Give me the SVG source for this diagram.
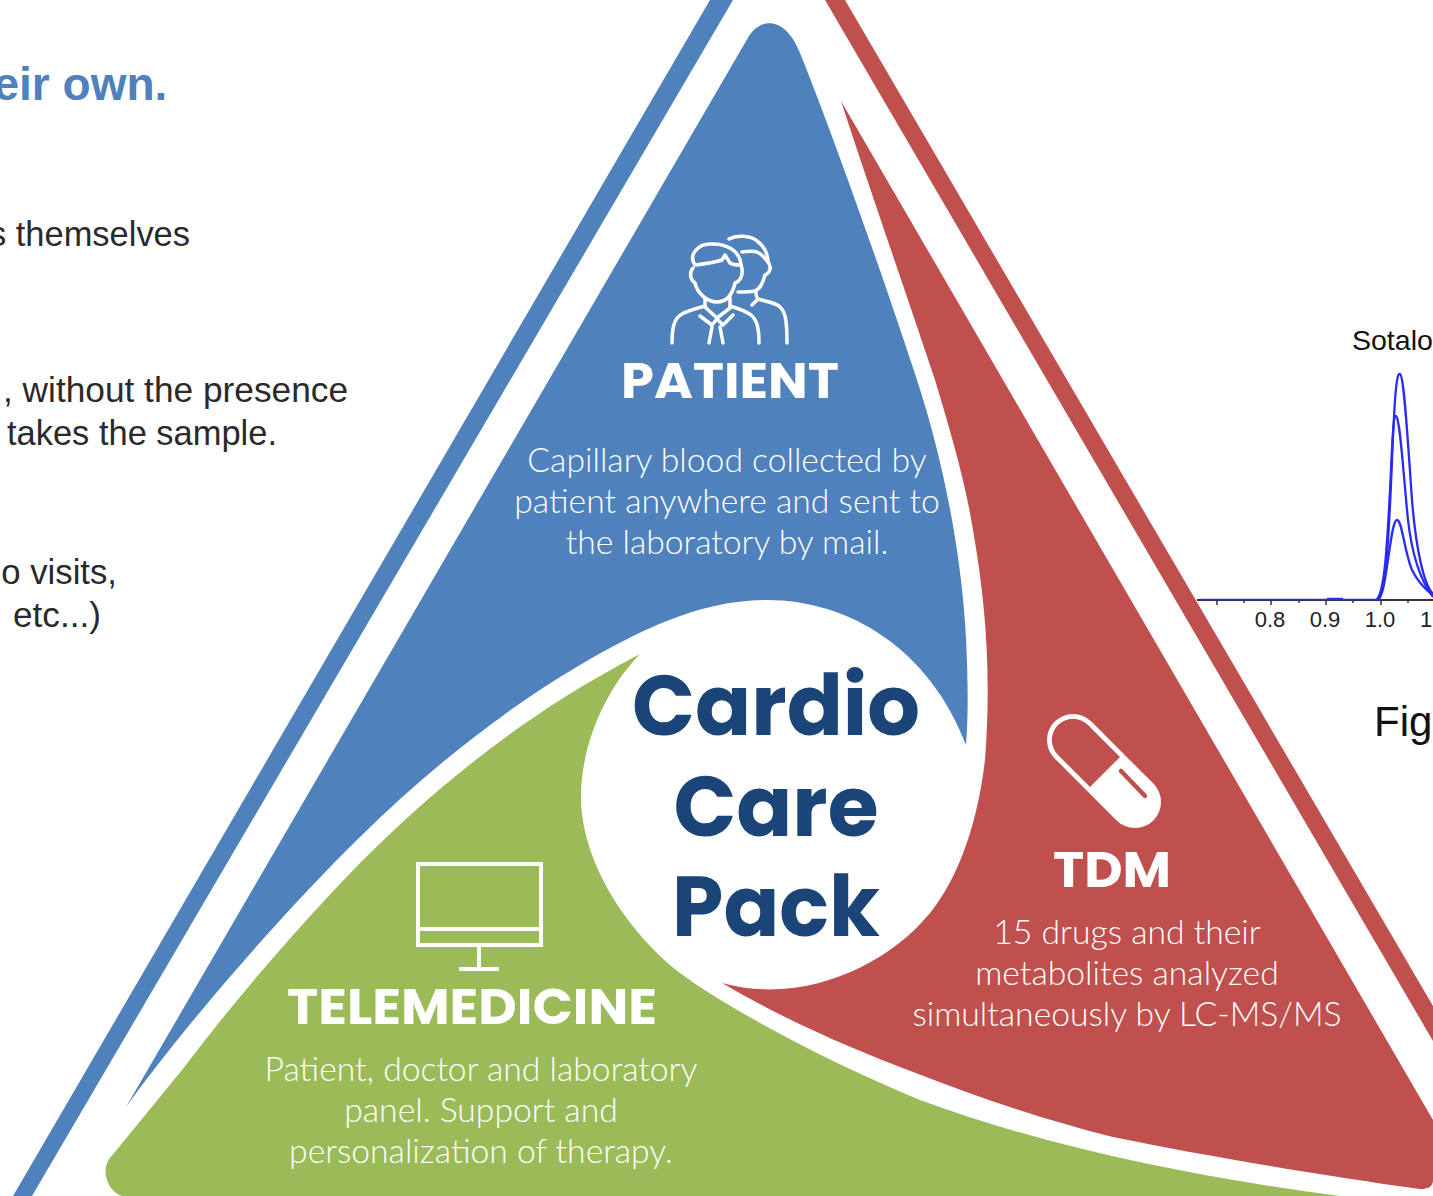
<svg xmlns="http://www.w3.org/2000/svg" width="1433" height="1196" viewBox="0 0 1433 1196">
<style>
.l{font-family:"Liberation Sans",Arial,sans-serif;font-size:35px;fill:#2a2a2a}
.b{font-family:Lato,"Open Sans",sans-serif;font-weight:300;font-size:33.700px;fill:#fff;text-anchor:middle}
.h{font-family:Poppins,Inter,sans-serif;font-weight:700;fill:#fff;text-anchor:middle;font-size:50px}
.c{font-family:Poppins,Inter,sans-serif;font-weight:700;fill:#1b4478;text-anchor:middle;font-size:84px}
.t{font-family:"Liberation Sans",Arial,sans-serif;font-size:22px;fill:#222;text-anchor:middle}
.w{fill:none;stroke:#fff;stroke-width:3.500;stroke-linecap:round;stroke-linejoin:round}
.tr{fill:none;stroke:#2a2af0;stroke-width:2.300}
</style>
<rect width="1433" height="1196" fill="#fff"/>
<g id="background-text">
<text x="-6.500" y="100" font-family="Liberation Sans,Arial,sans-serif" font-weight="700" font-size="46" fill="#4f81bd">eir own.</text>
<text class="l" x="-11" y="246" textLength="201" lengthAdjust="spacingAndGlyphs">s themselves</text>
<text class="l" x="3" y="402" textLength="345" lengthAdjust="spacingAndGlyphs">, without the presence</text>
<text class="l" x="7" y="445" textLength="270" lengthAdjust="spacingAndGlyphs">takes the sample.</text>
<text class="l" x="-18" y="584" textLength="135" lengthAdjust="spacingAndGlyphs">no visits,</text>
<text class="l" x="13" y="627" textLength="88" lengthAdjust="spacingAndGlyphs">etc...)</text>
<text x="1352" y="350" font-family="Liberation Sans,Arial,sans-serif" font-size="28.500" fill="#111">Sotalo</text>
<text x="1374" y="736" font-family="Liberation Sans,Arial,sans-serif" font-size="42" fill="#111">Fig</text>
</g>
<g id="chart">
<path d="M1197 600H1433" fill="none" stroke="#333" stroke-width="2"/>
<path d="M1217 600v5M1271 600v5M1326 600v5M1381 600v5M1244 600v3M1299 600v3M1353 600v3M1408 600v3" stroke="#333" stroke-width="1.500"/>
<path d="M1200 599.500H1378" fill="none" stroke="#2a2af0" stroke-width="1.500"/>
<path d="M1327 598.500H1343" fill="none" stroke="#2a2af0" stroke-width="1.500"/>
<path class="tr" d="M1376 600C1385 595 1388 560 1392 460C1395 385 1397 373 1400 374C1404 376 1407 430 1412 500C1416 550 1424 585 1433 594"/>
<path class="tr" d="M1376 600C1384 595 1387 555 1391 470C1393 425 1394 416 1396 416C1400 418 1403 470 1408 520C1412 555 1420 580 1433 597"/>
<path class="tr" d="M1378 600C1387 595 1390 520 1397 520C1402 520 1404 550 1412 570C1418 582 1426 590 1433 595"/>
<text class="t" x="1270" y="627">0.8</text>
<text class="t" x="1325" y="627">0.9</text>
<text class="t" x="1380" y="627">1.0</text>
<text class="t" x="1426" y="627">1</text>
</g>
<g id="frame">
<path d="M710 0H733L32 1196H13Z" fill="#4f81bd"/>
<path d="M825 0H845L1433 1006V1041Z" fill="#c0504d"/>
</g>
<g id="patient">
<path d="M126 1107L749 36C760 18 785 15 800 53C830 127 880 267 917 380C945 465 965 570 967 663C968 695 968 720 966 745C930 650 850 600 767 600C700 600 640 630 580 665C500 712 425 773 360 837C270 925 170 1045 126 1107Z" fill="#4f81bd"/>
<g class="w">
<path d="M695 265C688 255 698 244 710 244C725 243 740 250 741 265C737 265 733 265 730 263L725 255L722 260C713 263 703 264 695 265Z"/>
<path d="M693 268C689 272 690 280 695 283C697 292 706 302 717 302C728 302 733 292 735 283C741 281 744 273 741 265"/>
<path d="M705 298V307L717 318L730 308V298"/>
<path d="M705 306C695 309 687 311 682 314C675 318 672 325 672 343M730 306C740 309 747 312 751 315C757 320 759 328 759 343"/>
<path d="M700 316L712 325L717 319L723 325L733 315M712 327L709 343M720 327L723 343"/>
<path d="M729 239C736 235 750 235 757 241C763 245 768 253 768 262C772 267 770 273 765 275C763 283 760 289 755 291C750 292 744 292 738 292"/>
<path d="M742 252C748 251 754 251 757 252C762 254 765 258 768 262"/>
<path d="M756 292C756 296 757 298 758 299L752 305M758 299C768 302 775 303 779 306C785 311 787 318 787 343"/>
</g>
<text class="h" x="730" y="398" textLength="218" lengthAdjust="spacingAndGlyphs">PATIENT</text>
<text class="b" x="727" y="472">Capillary blood collected by</text>
<text class="b" x="727" y="513">patient anywhere and sent to</text>
<text class="b" x="727" y="554">the laboratory by mail.</text>
</g>
<g id="tdm">
<path d="M841 101L1433 1120V1180C1433 1187 1428 1189 1420 1189C1320 1175 1200 1155 1113 1137C1045 1120 980 1098 913 1072C850 1048 785 1020 722 983C800 1005 885 968 930 913C960 876 978 820 985 760C991 680 987 610 973 530C965 480 950 430 935 380C905 290 870 190 841 101Z" fill="#c0504d"/>
<g>
<path d="M1073 740L1135 802" fill="none" stroke="#fff" stroke-width="52" stroke-linecap="round"/>
<path d="M1088 725L1120 757L1090 787L1058 755A21 21 0 0 1 1088 725Z" fill="#c0504d"/>
<path d="M1121 771L1145 796" stroke="#c0504d" stroke-width="4.500" stroke-linecap="round" fill="none"/>
</g>
<text class="h" x="1112" y="887" textLength="118" lengthAdjust="spacingAndGlyphs">TDM</text>
<text class="b" x="1127" y="944">15 drugs and their</text>
<text class="b" x="1127" y="985">metabolites analyzed</text>
<text class="b" x="1127" y="1026">simultaneously by LC-MS/MS</text>
</g>
<g id="telemedicine">
<path d="M640 654C605 690 581 745 581 797C581 860 625 930 680 973C730 1010 830 1063 920 1100C1050 1148 1200 1178 1340 1196H122C108 1192 100 1170 110 1158L182 1070C235 1000 295 930 360 863C425 798 490 745 560 700C587 683 613 668 640 654Z" fill="#9bbb59"/>
<g fill="none" stroke="#fff" stroke-width="4">
<rect x="418" y="864" width="123" height="81"/>
<path d="M418 929H541M479 945V969M459 969H499"/>
</g>
<text class="h" x="472" y="1024" textLength="370" lengthAdjust="spacingAndGlyphs">TELEMEDICINE</text>
<text class="b" x="481" y="1081">Patient, doctor and laboratory</text>
<text class="b" x="481" y="1122">panel. Support and</text>
<text class="b" x="481" y="1163">personalization of therapy.</text>
</g>
<g id="center">
<text class="c" x="776" y="735" textLength="288" lengthAdjust="spacingAndGlyphs">Cardio</text>
<text class="c" x="776" y="836" textLength="205" lengthAdjust="spacingAndGlyphs">Care</text>
<text class="c" x="776" y="936" textLength="208" lengthAdjust="spacingAndGlyphs">Pack</text>
</g>
</svg>
